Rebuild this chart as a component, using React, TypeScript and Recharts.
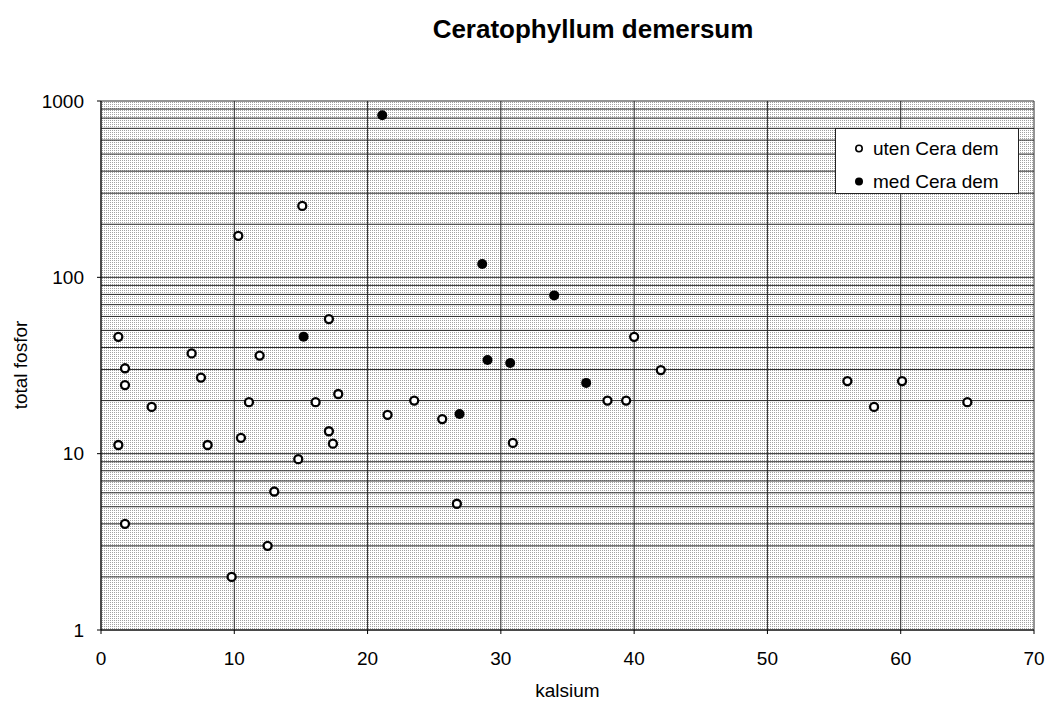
import { ScatterChart, Scatter, XAxis, YAxis, CartesianGrid, Legend } from 'recharts';

// kalsium (x) / total fosfor (y)
const utenKalsium = [
  1.3, 1.8, 1.8, 1.3, 1.8, 3.8, 6.8, 7.5, 8.0, 9.8, 10.3, 10.5, 11.1, 11.9, 12.5, 13.0, 14.8, 15.1,
  16.1, 17.1, 17.1, 17.4, 17.8, 21.5, 23.5, 25.6, 26.7, 30.9, 38.0, 39.4, 40.0, 42.0, 56.0, 58.0, 60.1, 65.0,
];
const utenFosfor = [
  46, 30.5, 24.5, 11.2, 4, 18.4, 37, 27, 11.2, 2, 172, 12.3, 19.6, 36, 3, 6.1, 9.3, 254,
  19.6, 58, 13.4, 11.4, 21.8, 16.6, 20, 15.7, 5.2, 11.5, 20, 20, 46, 29.8, 25.8, 18.4, 25.8, 19.6,
];
const medKalsium = [15.2, 21.1, 28.6, 29.0, 30.7, 26.9, 34.0, 36.4];
const medFosfor = [46, 830, 119, 34, 32.7, 16.8, 79, 25.2];

const xTicks = [0, 10, 20, 30, 40, 50, 60, 70];
const yMajorTicks = [1, 10, 100, 1000];
const yGridTicks = [
  1, 2, 3, 4, 5, 6, 7, 8, 9, 10, 20, 30, 40, 50, 60, 70, 80, 90,
  100, 200, 300, 400, 500, 600, 700, 800, 900, 1000,
];

const utenData = utenKalsium.map((x, i) => ({ x, y: utenFosfor[i] }));
const medData = medKalsium.map((x, i) => ({ x, y: medFosfor[i] }));

const font = '"Liberation Sans", Arial, sans-serif';

const OpenDot = (props: any) => (
  <circle cx={props.cx} cy={props.cy} r={4} fill="#fff" stroke="#000" strokeWidth={2.3} />
);
const FilledDot = (props: any) => <circle cx={props.cx} cy={props.cy} r={5} fill="#000" />;

const YTick = ({ x, y, payload }: any) => {
  if (!yMajorTicks.includes(payload.value)) return <g />;
  return (
    <g>
      <line x1={x + 13} x2={x + 17} y1={y} y2={y} stroke="#000" />
      <text x={x} y={y} dy="0.355em" textAnchor="end" fontSize={19} fontFamily={font} fill="#000">
        {payload.value}
      </text>
    </g>
  );
};

const renderLegend = () => (
  <div
    style={{
      background: '#fff',
      border: '1px solid #222',
      width: 184,
      height: 66,
      boxSizing: 'border-box',
      paddingTop: 3,
      fontFamily: font,
      fontSize: 19,
      color: '#000',
    }}
  >
    {[
      { label: 'uten Cera dem', filled: false },
      { label: 'med Cera dem', filled: true },
    ].map((row) => (
      <div key={row.label} style={{ display: 'flex', alignItems: 'center', height: 33 }}>
        <svg width={37} height={33}>
          {row.filled ? (
            <circle cx={23} cy={16.5} r={4} fill="#000" />
          ) : (
            <circle cx={23} cy={16.5} r={3.2} fill="#fff" stroke="#000" strokeWidth={1.6} />
          )}
        </svg>
        <span>{row.label}</span>
      </div>
    ))}
  </div>
);

export default function App() {
  return (
    <div style={{ position: 'absolute', left: 0, top: 0, width: 1051, height: 702, background: '#fff', fontFamily: font }}>
      <div
        style={{
          position: 'absolute',
          left: 393,
          top: 16,
          width: 400,
          textAlign: 'center',
          fontSize: 26,
          fontWeight: 'bold',
          lineHeight: '26px',
          whiteSpace: 'nowrap',
        }}
      >
        Ceratophyllum demersum
      </div>
      <div
        style={{
          position: 'absolute',
          left: 20,
          top: 365,
          transform: 'translate(-50%, -50%) rotate(-90deg)',
          fontSize: 19,
          whiteSpace: 'nowrap',
          lineHeight: '19px',
        }}
      >
        total fosfor
      </div>
      <ScatterChart width={1051} height={702} margin={{ top: 101, right: 17, bottom: 0, left: 0 }}>
        <defs>
          <pattern id="stipple" width={2} height={2} patternUnits="userSpaceOnUse">
            <rect x={0} y={0} width={2} height={2} fill="#fff" />
            <rect x={0} y={0} width={1} height={1} fill="#a2a2a2" />
          </pattern>
        </defs>
        <CartesianGrid stroke="#2a2a2a" strokeWidth={1} fill="url(#stipple)" />
        <XAxis
          type="number"
          dataKey="x"
          domain={[0, 70]}
          ticks={xTicks}
          allowDataOverflow
          height={72}
          tickSize={4}
          tickMargin={18}
          stroke="#000"
          tick={{ fill: '#000', fontSize: 19, fontFamily: font }}
          label={{ value: 'kalsium', position: 'insideBottom', offset: 5, fill: '#000', fontSize: 19, fontFamily: font }}
        />
        <YAxis
          type="number"
          dataKey="y"
          scale="log"
          domain={[1, 1000]}
          ticks={yGridTicks}
          allowDataOverflow
          interval={0}
          width={101}
          tickSize={4}
          tickMargin={13}
          tickLine={false}
          stroke="#000"
          tick={<YTick />}
        />
        <Legend
          layout="vertical"
          align="center"
          verticalAlign="middle"
          content={renderLegend}
          wrapperStyle={{ left: 835, top: 128, width: 184, height: 66 }}
        />
        <Scatter name="uten Cera dem" data={utenData} shape={OpenDot} isAnimationActive={false} />
        <Scatter name="med Cera dem" data={medData} shape={FilledDot} isAnimationActive={false} />
      </ScatterChart>
    </div>
  );
}
